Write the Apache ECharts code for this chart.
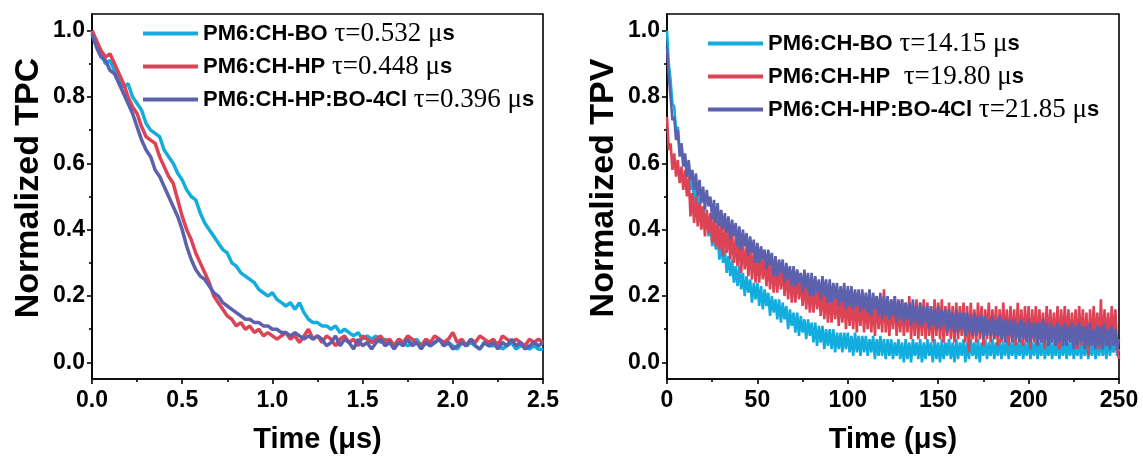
<!DOCTYPE html>
<html>
<head>
<meta charset="utf-8">
<script src="https://cdn.jsdelivr.net/npm/echarts@6/dist/echarts.min.js"></script>
<style>
html,body{margin:0;padding:0;background:#fff;}
#chart{width:1143px;height:459px;}
</style>
</head>
<body>
<div id="chart"></div>
<script>
// ---- data ----
const seriesNames = ['PM6:CH-BO', 'PM6:CH-HP', 'PM6:CH-HP:BO-4Cl'];
const tpcTau = ['0.532', '0.448', '0.396'];
const tpvTau = ['14.15', '19.80', '21.85'];
const yTitles = ['Normalized TPC', 'Normalized TPV'];
const xTitle = 'Time (μs)';
const tpcStep = 0.025;   // µs, sampling of TPC traces (0 .. 2.5)
const tpvStep = 1;       // µs, sampling of TPV traces (0 .. 250)
const yTicks = [0, 0.2, 0.4, 0.6, 0.8, 1.0];
const yMinorTicks = [0.1, 0.3, 0.5, 0.7, 0.9];

const tpcCyan = [
  1.00,0.96,0.93,0.90,0.91,0.88,0.86,0.83,0.84,0.80,
  0.78,0.76,0.72,0.70,0.69,0.68,0.64,0.62,0.60,0.57,
  0.55,0.52,0.50,0.49,0.45,0.42,0.40,0.38,0.36,0.34,
  0.33,0.30,0.29,0.27,0.26,0.25,0.24,0.22,0.21,0.20,
  0.21,0.19,0.18,0.17,0.18,0.16,0.18,0.15,0.13,0.12,
  0.12,0.11,0.11,0.10,0.11,0.09,0.10,0.09,0.08,0.09,
  0.07,0.08,0.07,0.08,0.06,0.07,0.06,0.05,0.07,0.06,
  0.05,0.06,0.07,0.05,0.06,0.05,0.06,0.07,0.05,0.06,
  0.05,0.04,0.06,0.05,0.06,0.05,0.04,0.06,0.05,0.05,
  0.06,0.04,0.05,0.06,0.04,0.05,0.05,0.04,0.05,0.04,
  0.04
];
const tpcRed = [
  1.00,0.97,0.94,0.92,0.93,0.90,0.87,0.84,0.80,0.77,
  0.75,0.71,0.68,0.67,0.66,0.62,0.59,0.56,0.54,0.49,
  0.44,0.40,0.37,0.33,0.30,0.27,0.24,0.20,0.18,0.16,
  0.14,0.13,0.11,0.12,0.10,0.11,0.09,0.10,0.08,0.09,
  0.08,0.07,0.08,0.09,0.07,0.08,0.06,0.08,0.10,0.07,
  0.08,0.06,0.08,0.07,0.05,0.07,0.08,0.06,0.07,0.05,
  0.08,0.07,0.06,0.07,0.08,0.06,0.07,0.05,0.07,0.06,
  0.08,0.07,0.06,0.05,0.07,0.06,0.08,0.07,0.06,0.07,
  0.09,0.06,0.07,0.05,0.07,0.06,0.08,0.07,0.06,0.07,
  0.05,0.08,0.07,0.06,0.07,0.06,0.05,0.07,0.06,0.07,
  0.06
];
const tpcPurple = [
  0.99,0.95,0.92,0.91,0.88,0.87,0.84,0.81,0.78,0.75,
  0.71,0.67,0.64,0.62,0.58,0.56,0.53,0.50,0.47,0.44,
  0.40,0.35,0.31,0.28,0.26,0.25,0.23,0.21,0.20,0.18,
  0.17,0.16,0.15,0.14,0.13,0.13,0.12,0.12,0.11,0.11,
  0.10,0.10,0.09,0.09,0.08,0.09,0.08,0.07,0.08,0.07,
  0.08,0.07,0.05,0.06,0.08,0.05,0.07,0.06,0.04,0.07,
  0.05,0.06,0.04,0.06,0.07,0.05,0.06,0.04,0.06,0.05,
  0.07,0.05,0.06,0.04,0.06,0.05,0.06,0.07,0.05,0.06,
  0.04,0.05,0.06,0.05,0.07,0.05,0.04,0.06,0.05,0.06,
  0.04,0.06,0.05,0.07,0.05,0.06,0.04,0.05,0.06,0.05,
  0.06
];

const tpvCyan = [
  1.00,0.90,0.85,0.78,0.77,0.70,0.71,0.64,0.66,0.60,
  0.62,0.56,0.59,0.52,0.56,0.48,0.53,0.45,0.50,0.43,
  0.47,0.40,0.45,0.38,0.43,0.35,0.40,0.34,0.38,0.31,
  0.36,0.30,0.34,0.27,0.32,0.26,0.31,0.24,0.29,0.23,
  0.29,0.22,0.27,0.20,0.26,0.21,0.25,0.18,0.24,0.19,
  0.24,0.17,0.23,0.16,0.22,0.17,0.21,0.14,0.20,0.15,
  0.19,0.13,0.19,0.12,0.18,0.13,0.17,0.10,0.16,0.11,
  0.15,0.09,0.15,0.08,0.14,0.09,0.13,0.07,0.13,0.08,
  0.12,0.06,0.12,0.05,0.11,0.06,0.11,0.04,0.10,0.05,
  0.10,0.04,0.10,0.03,0.09,0.04,0.09,0.03,0.09,0.04,
  0.09,0.03,0.08,0.02,0.09,0.03,0.08,0.02,0.08,0.03,
  0.08,0.02,0.07,0.03,0.08,0.01,0.07,0.02,0.08,0.02,
  0.07,0.01,0.07,0.02,0.07,0.01,0.06,0.02,0.07,0.01,
  0.06,0.00,0.07,0.01,0.06,0.00,0.07,0.02,0.06,0.01,
  0.07,0.00,0.06,0.01,0.07,0.02,0.06,0.00,0.07,0.01,
  0.06,0.00,0.07,0.01,0.06,0.02,0.07,0.01,0.06,0.00,
  0.07,0.01,0.06,0.02,0.07,0.00,0.06,0.01,0.07,0.02,
  0.06,0.01,0.07,0.00,0.06,0.02,0.07,0.01,0.06,0.02,
  0.07,0.01,0.06,0.02,0.07,0.01,0.06,0.02,0.07,0.01,
  0.06,0.02,0.07,0.01,0.06,0.02,0.07,0.01,0.06,0.02,
  0.07,0.01,0.06,0.02,0.07,0.01,0.06,0.02,0.07,0.01,
  0.06,0.02,0.07,0.01,0.06,0.02,0.07,0.01,0.06,0.02,
  0.07,0.01,0.06,0.02,0.07,0.01,0.06,0.02,0.07,0.01,
  0.06,0.02,0.07,0.01,0.06,0.02,0.07,0.01,0.06,0.02,
  0.07,0.02,0.06,0.01,0.07,0.02,0.06,0.03,0.07,0.02,
  0.04
];
const tpvRed = [
  0.74,0.64,0.66,0.58,0.63,0.56,0.61,0.54,0.59,0.52,
  0.58,0.50,0.56,0.44,0.51,0.42,0.50,0.41,0.48,0.40,
  0.47,0.38,0.46,0.39,0.45,0.36,0.44,0.35,0.43,0.34,
  0.42,0.32,0.41,0.33,0.40,0.31,0.39,0.30,0.38,0.29,
  0.37,0.27,0.36,0.28,0.35,0.26,0.35,0.25,0.34,0.24,
  0.33,0.24,0.33,0.25,0.32,0.23,0.31,0.22,0.31,0.21,
  0.30,0.21,0.30,0.22,0.29,0.20,0.28,0.19,0.28,0.18,
  0.27,0.18,0.27,0.19,0.26,0.17,0.25,0.16,0.25,0.15,
  0.24,0.15,0.24,0.16,0.23,0.14,0.23,0.13,0.22,0.12,
  0.22,0.12,0.21,0.13,0.21,0.11,0.20,0.12,0.21,0.10,
  0.20,0.11,0.20,0.10,0.21,0.09,0.19,0.11,0.20,0.09,
  0.19,0.10,0.20,0.09,0.19,0.08,0.20,0.10,0.18,0.09,
  0.22,0.09,0.19,0.08,0.19,0.10,0.20,0.08,0.18,0.09,
  0.19,0.08,0.18,0.09,0.20,0.07,0.18,0.08,0.19,0.07,
  0.18,0.08,0.19,0.07,0.18,0.08,0.17,0.06,0.19,0.08,
  0.18,0.07,0.19,0.06,0.17,0.08,0.18,0.07,0.17,0.06,
  0.18,0.07,0.17,0.08,0.18,0.06,0.17,0.03,0.18,0.07,
  0.16,0.06,0.18,0.07,0.17,0.05,0.16,0.07,0.18,0.06,
  0.16,0.07,0.17,0.05,0.16,0.06,0.18,0.06,0.16,0.05,
  0.17,0.06,0.16,0.05,0.18,0.06,0.16,0.05,0.17,0.06,
  0.17,0.04,0.16,0.06,0.17,0.05,0.16,0.06,0.15,0.04,
  0.17,0.05,0.16,0.06,0.15,0.05,0.17,0.04,0.16,0.06,
  0.17,0.05,0.16,0.06,0.15,0.05,0.16,0.04,0.17,0.05,
  0.16,0.05,0.15,0.02,0.16,0.05,0.17,0.06,0.15,0.04,
  0.19,0.04,0.16,0.06,0.15,0.05,0.17,0.06,0.16,0.04,
  0.01
];
const tpvPurple = [
  0.95,0.86,0.80,0.73,0.74,0.67,0.70,0.62,0.66,0.59,
  0.63,0.56,0.61,0.55,0.58,0.52,0.57,0.50,0.55,0.48,
  0.53,0.46,0.52,0.47,0.50,0.43,0.49,0.42,0.48,0.41,
  0.46,0.40,0.45,0.39,0.44,0.37,0.43,0.38,0.42,0.35,
  0.41,0.34,0.40,0.35,0.39,0.32,0.38,0.33,0.37,0.30,
  0.36,0.30,0.35,0.31,0.34,0.28,0.34,0.29,0.33,0.26,
  0.32,0.26,0.31,0.27,0.31,0.24,0.30,0.25,0.29,0.23,
  0.29,0.23,0.28,0.24,0.27,0.21,0.28,0.22,0.27,0.20,
  0.27,0.20,0.26,0.21,0.25,0.19,0.26,0.20,0.25,0.18,
  0.25,0.18,0.24,0.19,0.24,0.17,0.23,0.18,0.24,0.16,
  0.23,0.17,0.23,0.16,0.22,0.17,0.22,0.15,0.22,0.16,
  0.21,0.15,0.22,0.14,0.21,0.16,0.20,0.14,0.21,0.13,
  0.20,0.14,0.20,0.13,0.19,0.14,0.20,0.12,0.19,0.13,
  0.19,0.12,0.18,0.13,0.18,0.11,0.19,0.12,0.17,0.11,
  0.18,0.11,0.17,0.12,0.17,0.10,0.17,0.11,0.16,0.10,
  0.17,0.10,0.16,0.11,0.16,0.09,0.16,0.10,0.15,0.09,
  0.16,0.09,0.15,0.10,0.15,0.08,0.15,0.09,0.14,0.08,
  0.15,0.08,0.14,0.09,0.14,0.07,0.14,0.08,0.13,0.08,
  0.14,0.07,0.13,0.08,0.14,0.07,0.13,0.06,0.13,0.08,
  0.13,0.06,0.13,0.07,0.12,0.06,0.13,0.07,0.12,0.06,
  0.13,0.06,0.12,0.07,0.12,0.05,0.12,0.06,0.13,0.06,
  0.12,0.05,0.12,0.06,0.11,0.05,0.12,0.06,0.11,0.05,
  0.12,0.05,0.11,0.06,0.12,0.04,0.11,0.05,0.12,0.06,
  0.11,0.04,0.11,0.05,0.12,0.05,0.10,0.04,0.11,0.05,
  0.11,0.04,0.12,0.05,0.10,0.04,0.11,0.05,0.10,0.04,
  0.07
];

// ---- styles ----
const colors = ['#12ADDF', '#DC4456', '#5C61AE'];
const SANS = 'Liberation Sans, Arial, sans-serif';
const SERIF = 'Liberation Serif, Times New Roman, serif';

function withTime(step, arr) { return arr.map((v, i) => [+(i * step).toFixed(4), v]); }

function xAxis(grid, max, interval, fmt) {
  return {
    gridIndex: grid, type: 'value', min: 0, max: max, interval: interval,
    name: xTitle, nameLocation: 'middle', nameGap: 46,
    nameTextStyle: { fontFamily: SANS, fontWeight: 'bold', fontSize: 29, color: '#000' },
    axisLine: { onZero: false, lineStyle: { color: '#000', width: 1.6 } },
    axisTick: { show: true, inside: false, length: 5, lineStyle: { color: '#000', width: 1.6 } },
    minorTick: { show: true, splitNumber: 2, length: 3, lineStyle: { color: '#000', width: 1.6 } },
    axisLabel: { fontFamily: SANS, fontWeight: 'bold', fontSize: 23, color: '#000', margin: 10, formatter: fmt },
    splitLine: { show: false }, minorSplitLine: { show: false }
  };
}
function yAxisMain(grid) {
  return {
    gridIndex: grid, type: 'value', min: -0.05, max: 1.05, position: 'left',
    axisLine: { onZero: false, lineStyle: { color: '#000', width: 1.6 } },
    axisTick: { show: true, inside: false, length: 5, customValues: yTicks, lineStyle: { color: '#000', width: 1.6 } },
    axisLabel: { customValues: yTicks, fontFamily: SANS, fontWeight: 'bold', fontSize: 23, color: '#000', margin: 7,
      formatter: v => v.toFixed(1) },
    splitLine: { show: false }
  };
}
function yAxisMinor(grid) {
  return {
    gridIndex: grid, type: 'value', min: -0.05, max: 1.05, position: 'left',
    axisLine: { show: false },
    axisTick: { show: true, inside: false, length: 3, customValues: yMinorTicks, lineStyle: { color: '#000', width: 1.6 } },
    axisLabel: { show: false }, splitLine: { show: false }
  };
}
function legend(left, top, tau, extra) {
  return {
    orient: 'vertical', left: left, top: top, itemGap: 6, itemWidth: 55, itemHeight: 4,
    icon: 'rect', data: seriesNames, selectedMode: false,
    formatter: name => {
      const i = seriesNames.indexOf(name);
      return '{a|' + name + '}{b|' + extra[i] + 'τ=' + tau[i] + ' μ}{a|s}';
    },
    textStyle: {
      rich: {
        a: { fontFamily: SANS, fontWeight: 'bold', fontSize: 22, color: '#000', lineHeight: 26 },
        b: { fontFamily: SERIF, fontSize: 27, color: '#000', lineHeight: 26 }
      }
    }
  };
}
function yTitle(x, y, text) {
  return {
    type: 'text', x: x, y: y, rotation: Math.PI / 2,
    style: { text: text, fontFamily: SANS, fontWeight: 'bold', fontSize: 34, fill: '#000',
      align: 'center', verticalAlign: 'middle' }
  };
}

const tpcData = [tpcCyan, tpcRed, tpcPurple];
const tpvData = [tpvCyan, tpvRed, tpvPurple];
const series = [];
tpcData.forEach((d, i) => series.push({
  name: seriesNames[i], type: 'line', xAxisIndex: 0, yAxisIndex: 0, showSymbol: false, symbol: 'none',
  data: withTime(tpcStep, d), color: colors[i], lineStyle: { width: 3.5, color: colors[i] }, z: 2 + i
}));
tpvData.forEach((d, i) => series.push({
  name: seriesNames[i], type: 'line', xAxisIndex: 1, yAxisIndex: 2, showSymbol: false, symbol: 'none',
  data: withTime(tpvStep, d), color: colors[i], lineStyle: { width: 2.6, color: colors[i] }, z: 2 + i
}));

const chart = echarts.init(document.getElementById('chart'), null, { renderer: 'canvas' });
chart.setOption({
  animation: false,
  backgroundColor: '#fff',
  grid: [
    { left: 92, top: 14, width: 451, height: 365, show: true, borderColor: '#000', borderWidth: 1.6, backgroundColor: 'transparent' },
    { left: 667, top: 14, width: 452, height: 365, show: true, borderColor: '#000', borderWidth: 1.6, backgroundColor: 'transparent' }
  ],
  legend: [
    legend(138, 15, tpcTau, [' ', ' ', ' ']),
    legend(703, 25, tpvTau, [' ', '  ', ' '])
  ],
  graphic: [
    yTitle(29, 188, yTitles[0]),
    yTitle(604, 188, yTitles[1])
  ],
  xAxis: [
    xAxis(0, 2.5, 0.5, v => v.toFixed(1)),
    xAxis(1, 250, 50, v => String(v))
  ],
  yAxis: [
    yAxisMain(0), yAxisMinor(0),
    yAxisMain(1), yAxisMinor(1)
  ],
  series: series
});
</script>
</body>
</html>
